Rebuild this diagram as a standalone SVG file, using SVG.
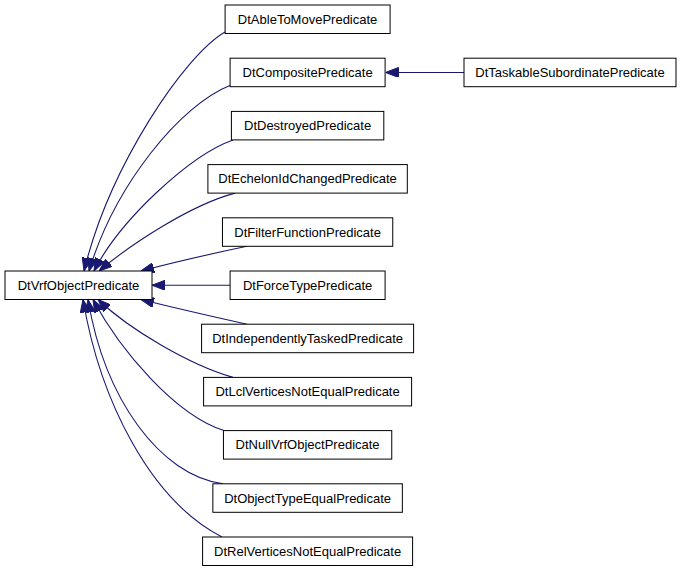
<svg xmlns="http://www.w3.org/2000/svg" width="683" height="573" viewBox="0 0 683 573">
<style>
.node rect{fill:#fff;stroke:#000;stroke-width:1}
.node text{font-family:"Liberation Sans",Arial,Helvetica,sans-serif;font-size:13px;fill:#000;text-anchor:middle}
.edges path{fill:none;stroke:#191970;stroke-width:1.1}
</style>
<defs>
<marker id="ah" viewBox="0 0 13 10" refX="13" refY="5" markerWidth="13" markerHeight="10" markerUnits="userSpaceOnUse" orient="auto">
<path d="M0,0 L13,5 L0,10 z" fill="#191970" stroke="#191970" stroke-width="1"/>
</marker>
</defs>
<rect width="683" height="573" fill="#fff"/>
<g class="edges">
<path marker-end="url(#ah)" d="M225,32 C185,55 110,165 84,271"/>
<path marker-end="url(#ah)" d="M231,85 C180,105 115,185 89,271"/>
<path marker-end="url(#ah)" d="M233,139.9 C190,155 120,220 94,271"/>
<path marker-end="url(#ah)" d="M235,193.1 C190,205 130,245 99,271"/>
<path marker-end="url(#ah)" d="M247,246.3 C210,254 175,262 141,271"/>
<path marker-end="url(#ah)" d="M230,285.25 L152,285.25"/>
<path marker-end="url(#ah)" d="M247,324.2 C210,316 175,308 141,299.5"/>
<path marker-end="url(#ah)" d="M233,377.4 C190,365 130,330 98,299.5"/>
<path marker-end="url(#ah)" d="M224,430.6 C175,415 120,350 93,299.5"/>
<path marker-end="url(#ah)" d="M223,483.8 C160,475 105,400 88,299.5"/>
<path marker-end="url(#ah)" d="M222,537 C150,500 100,400 83,299.5"/>
<path marker-end="url(#ah)" d="M464,72.45 L385.5,72.45"/>
</g>
<g id="DtVrfObjectPredicate" class="node"><rect x="5" y="271" width="147" height="28.5"/><text x="78.5" y="289.8">DtVrfObjectPredicate</text></g>
<g id="DtAbleToMovePredicate" class="node"><rect x="225.1" y="5" width="165" height="28.5"/><text x="307.6" y="23.8">DtAbleToMovePredicate</text></g>
<g id="DtCompositePredicate" class="node"><rect x="230.1" y="58.2" width="155" height="28.5"/><text x="307.6" y="77">DtCompositePredicate</text></g>
<g id="DtTaskableSubordinatePredicate" class="node"><rect x="464" y="58.2" width="212" height="28.5"/><text x="570" y="77">DtTaskableSubordinatePredicate</text></g>
<g id="DtDestroyedPredicate" class="node"><rect x="231.4" y="111.4" width="152.4" height="28.5"/><text x="307.6" y="130.2">DtDestroyedPredicate</text></g>
<g id="DtEchelonIdChangedPredicate" class="node"><rect x="207.9" y="164.6" width="199.4" height="28.5"/><text x="307.6" y="183.4">DtEchelonIdChangedPredicate</text></g>
<g id="DtFilterFunctionPredicate" class="node"><rect x="222.45" y="217.8" width="170.3" height="28.5"/><text x="307.6" y="236.6">DtFilterFunctionPredicate</text></g>
<g id="DtForceTypePredicate" class="node"><rect x="230.1" y="271" width="155" height="28.5"/><text x="307.6" y="289.8">DtForceTypePredicate</text></g>
<g id="DtIndependentlyTaskedPredicate" class="node"><rect x="201.6" y="324.2" width="212" height="28.5"/><text x="307.6" y="343">DtIndependentlyTaskedPredicate</text></g>
<g id="DtLclVerticesNotEqualPredicate" class="node"><rect x="203.6" y="377.4" width="208" height="28.5"/><text x="307.6" y="396.2">DtLclVerticesNotEqualPredicate</text></g>
<g id="DtNullVrfObjectPredicate" class="node"><rect x="223.45" y="430.6" width="168.3" height="28.5"/><text x="307.6" y="449.4">DtNullVrfObjectPredicate</text></g>
<g id="DtObjectTypeEqualPredicate" class="node"><rect x="212.85" y="483.8" width="189.5" height="28.5"/><text x="307.6" y="502.6">DtObjectTypeEqualPredicate</text></g>
<g id="DtRelVerticesNotEqualPredicate" class="node"><rect x="202.6" y="537" width="210" height="28.5"/><text x="307.6" y="555.8">DtRelVerticesNotEqualPredicate</text></g>
</svg>
